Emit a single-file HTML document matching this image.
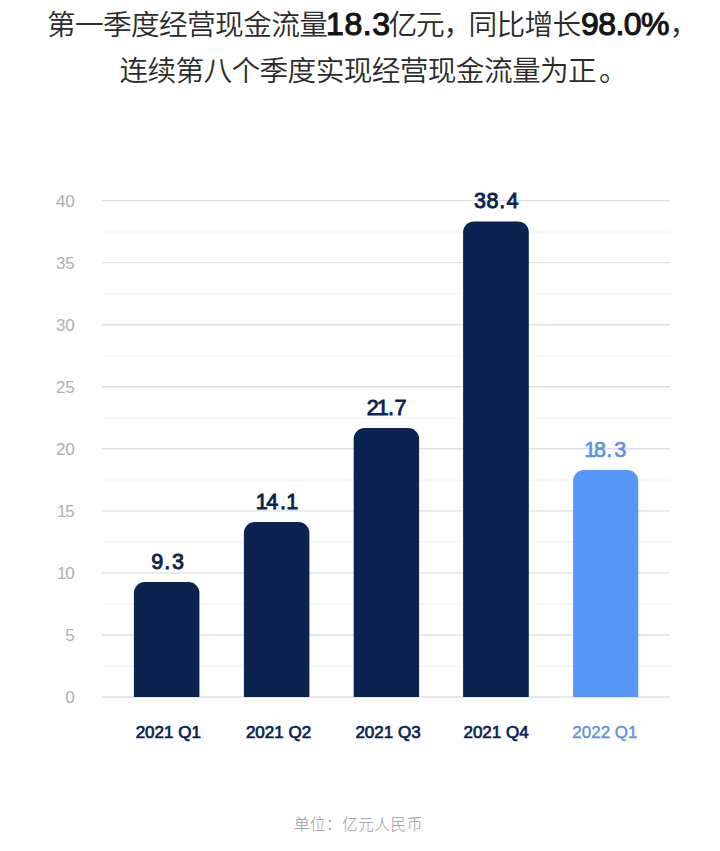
<!DOCTYPE html>
<html lang="zh-CN">
<head>
<meta charset="utf-8">
<title>经营现金流量</title>
<style>
  html,body{margin:0;padding:0;background:#fff;}
  body{width:720px;height:851px;position:relative;overflow:hidden;
       font-family:"Liberation Sans","Noto Sans CJK SC",sans-serif;}
  .title{position:absolute;left:0;top:0;width:720px;color:#2b2b2b;
         font-family:"Liberation Sans","Noto Sans CJK SC",sans-serif;
         font-size:28.7px;letter-spacing:-0.65px;font-weight:350;white-space:nowrap;}
  .title .l{position:absolute;height:45px;line-height:45px;}
  .title .b{font-weight:400;color:#141414;font-size:32px;-webkit-text-stroke:1.1px #141414;}
  .gridsvg{position:absolute;left:0;top:0;}
  .gridsvg .mj{stroke:#e0e0e0;stroke-width:1.4;}
  .gridsvg .mn{stroke:#f4f4f4;stroke-width:1.2;}
  .yl{position:absolute;left:18.8px;width:56px;text-align:right;color:#b0b0b0;
      font-size:17px;line-height:20px;font-weight:400;}
  .barsvg{position:absolute;left:0;top:0;}
  .barsvg path{fill:#0a2351;}
  .barsvg path.hl{fill:#5797fa;}
  .vals{position:absolute;left:0;top:0;}
  .vals text{font-family:"Liberation Sans",sans-serif;font-size:21.5px;fill:#0a2351;stroke:#0a2351;stroke-width:0.9px;}
  .vals text.hl{fill:#5a93ea;stroke:#5a93ea;stroke-width:0.7px;}
  .xl{position:absolute;width:110px;text-align:center;color:#0a2351;
      font-size:17px;font-weight:400;line-height:20px;top:722.5px;-webkit-text-stroke:0.7px currentColor;}
  .xl.hl{color:#5c92e4;-webkit-text-stroke-width:0.4px;}
  .unit{position:absolute;top:814.6px;color:#999;white-space:nowrap;
        font-size:15.7px;line-height:20px;font-weight:300;font-family:"Liberation Sans","Noto Sans CJK SC",sans-serif;}
</style>
</head>
<body>
<div class="title">
  <span class="l" style="left:46.9px;top:3px;">第一季度经营现金流量</span>
  <span class="l b" style="left:326px;top:2px;letter-spacing:0.6px;">18.3</span>
  <span class="l" style="left:388.4px;top:3px;letter-spacing:-1.15px;">亿元，</span>
  <span class="l" style="left:468.4px;top:3px;">同比增长</span>
  <span class="l b" style="left:581px;top:2px;letter-spacing:-0.6px;">98.0%</span>
  <span class="l" style="left:669.5px;top:3px;">，</span>
  <span class="l" style="left:119.4px;top:48.5px;">连续第八个季度实现经营现金流量为正</span>
  <span class="l" style="left:598.9px;top:48.5px;">。</span>
</div>

<!-- gridlines -->
<svg class="gridsvg" width="720" height="851" viewBox="0 0 720 851">
  <line class="mn" x1="104.5" x2="670" y1="232.15" y2="232.15"/>
  <line class="mn" x1="104.5" x2="670" y1="294.15" y2="294.15"/>
  <line class="mn" x1="104.5" x2="670" y1="356.15" y2="356.15"/>
  <line class="mn" x1="104.5" x2="670" y1="418.15" y2="418.15"/>
  <line class="mn" x1="104.5" x2="670" y1="480.15" y2="480.15"/>
  <line class="mn" x1="104.5" x2="670" y1="542.15" y2="542.15"/>
  <line class="mn" x1="104.5" x2="670" y1="604.15" y2="604.15"/>
  <line class="mn" x1="104.5" x2="670" y1="666.15" y2="666.15"/>
  <line class="mj" x1="102.3" x2="670" y1="200.60" y2="200.60"/>
  <line class="mj" x1="102.3" x2="670" y1="262.65" y2="262.65"/>
  <line class="mj" x1="102.3" x2="670" y1="324.70" y2="324.70"/>
  <line class="mj" x1="102.3" x2="670" y1="386.75" y2="386.75"/>
  <line class="mj" x1="102.3" x2="670" y1="448.80" y2="448.80"/>
  <line class="mj" x1="102.3" x2="670" y1="510.85" y2="510.85"/>
  <line class="mj" x1="102.3" x2="670" y1="572.90" y2="572.90"/>
  <line class="mj" x1="102.3" x2="670" y1="634.95" y2="634.95"/>
  <line class="mj" x1="102.3" x2="670" y1="697.00" y2="697.00"/>
</svg>

<!-- y labels -->
<div class="yl" style="top:192px">40</div>
<div class="yl" style="top:254px">35</div>
<div class="yl" style="top:316px">30</div>
<div class="yl" style="top:378px">25</div>
<div class="yl" style="top:440px">20</div>
<div class="yl" style="top:502px;letter-spacing:-1.2px;margin-left:-1.2px">15</div>
<div class="yl" style="top:564px;letter-spacing:-1.2px;margin-left:-1.2px">10</div>
<div class="yl" style="top:626px">5</div>
<div class="yl" style="top:688px">0</div>

<!-- bars -->
<svg class="barsvg" width="720" height="851" viewBox="0 0 720 851">
  <path d="M133.9 696.9V593.1A11 11 0 0 1 144.9 582.1H188.4A11 11 0 0 1 199.4 593.1V696.9Z"/>
  <path d="M243.9 696.9V533.1A11 11 0 0 1 254.9 522.1H298.4A11 11 0 0 1 309.4 533.1V696.9Z"/>
  <path d="M353.7 696.9V439.1A11 11 0 0 1 364.7 428.1H408.1A11 11 0 0 1 419.1 439.1V696.9Z"/>
  <path d="M463.1 696.9V232.4A11 11 0 0 1 474.1 221.4H517.8A11 11 0 0 1 528.8 232.4V696.9Z"/>
  <path class="hl" d="M573.1 696.9V481.1A11 11 0 0 1 584.1 470.1H627.3A11 11 0 0 1 638.3 481.1V696.9Z"/>
</svg>

<!-- values -->
<svg class="vals" width="720" height="851" viewBox="0 0 720 851">
  <text x="151.3 164.3 171.9" y="568.9">9.3</text>
  <text x="255.8 266.3 279.9 286.2" y="508.9">14.1</text>
  <text x="366.7 376.7 388.0 394.5" y="415.0">21.7</text>
  <text x="474.1 486.5 499.2 506.6" y="208.4">38.4</text>
  <text class="hl" x="584.2 593.9 606.3 614.2" y="457.1">18.3</text>
</svg>

<!-- x labels -->
<div class="xl" style="left:113.25px">2021 Q1</div>
<div class="xl" style="left:223.5px">2021 Q2</div>
<div class="xl" style="left:333px">2021 Q3</div>
<div class="xl" style="left:441.05px">2021 Q4</div>
<div class="xl hl" style="left:549.9px">2022 Q1</div>

<div class="unit" style="left:294px;letter-spacing:0.3px">单位：</div>
<div class="unit" style="left:342px;letter-spacing:0.5px">亿元人民币</div>
</body>
</html>
